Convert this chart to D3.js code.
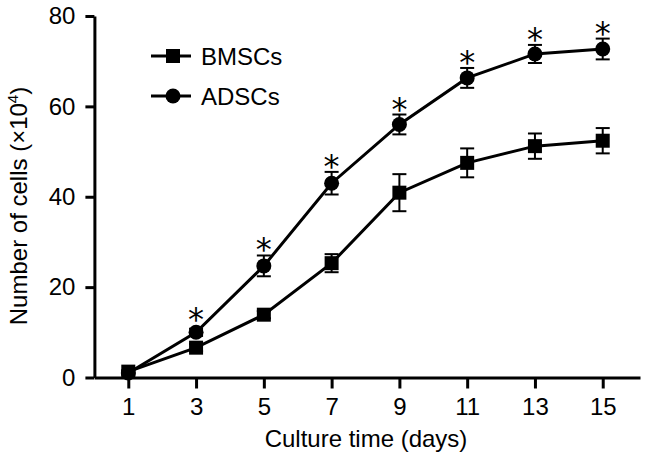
<!DOCTYPE html>
<html>
<head>
<meta charset="utf-8">
<script src="https://cdn.jsdelivr.net/npm/d3@7"></script>
<style>
  html, body { margin: 0; padding: 0; background: #fff; }
  svg { display: block; }
  text { font-family: "Liberation Sans", Arial, Helvetica, sans-serif; fill: #000; }
</style>
</head>
<body>
<svg id="chart" width="646" height="460"></svg>
<script>
// ---- data ----
const days = [1, 3, 5, 7, 9, 11, 13, 15];
const bmscMean = [1.3, 6.6, 13.9, 25.3, 40.9, 47.5, 51.2, 52.4];
const bmscErr  = [0.3, 0.8, 0.8, 2.0, 4.1, 3.2, 2.8, 2.8];
const adscMean = [1.0, 10.0, 24.7, 43.0, 56.0, 66.3, 71.6, 72.7];
const adscErr  = [0.3, 0.8, 2.3, 2.5, 2.2, 2.2, 2.0, 2.3];
const significant = [false, true, true, true, true, true, true, true];
const xTicks = [1, 3, 5, 7, 9, 11, 13, 15];
const yTicks = [0, 20, 40, 60, 80];
const seriesNames = ["BMSCs", "ADSCs"];

const svg = d3.select("#chart");
const x = d3.scaleLinear().domain([0, 16.1]).range([94.4, 640]);
const y = d3.scaleLinear().domain([0, 80]).range([377.5, 16]);

// axes
const yAxis = d3.axisLeft(y).tickValues(yTicks).tickSize(9).tickPadding(10).tickSizeOuter(0);
const xAxis = d3.axisBottom(x).tickValues(xTicks).tickSize(11).tickPadding(9).tickSizeOuter(0);

const gy = svg.append("g").attr("transform", `translate(${x(0)},0)`).call(yAxis);
const gx = svg.append("g").attr("transform", `translate(0,${y(0)})`).call(xAxis);
[gx, gy].forEach(g => {
  g.select(".domain").attr("stroke", "#000").attr("stroke-width", 3);
  g.selectAll(".tick line").attr("stroke", "#000").attr("stroke-width", 3);
  g.selectAll(".tick text").attr("font-size", 24).attr("font-family", "Liberation Sans, Arial, sans-serif").attr("fill", "#000");
});

// axis titles
svg.append("text")
  .attr("x", 366).attr("y", 447)
  .attr("text-anchor", "middle").attr("font-size", 24)
  .text("Culture time (days)");

const yt = svg.append("text")
  .attr("transform", "translate(27,206) rotate(-90)")
  .attr("text-anchor", "middle").attr("font-size", 24);
yt.append("tspan").text("Number of cells (\u00d710");
yt.append("tspan").attr("font-size", 15).attr("dy", -9).text("4");
yt.append("tspan").attr("dy", 9).text(")");

// series
const series = [
  { name: seriesNames[1], mean: adscMean, err: adscErr, shape: "circle" },
  { name: seriesNames[0], mean: bmscMean, err: bmscErr, shape: "square" }
];

const line = d3.line().x(d => x(d.day)).y(d => y(d.v));
const capW = 14;

series.forEach(s => {
  const pts = days.map((d, i) => ({ day: d, v: s.mean[i], e: s.err[i] }));
  const g = svg.append("g");
  g.append("path").datum(pts).attr("d", line)
    .attr("fill", "none").attr("stroke", "#000").attr("stroke-width", 3);
  const eb = g.selectAll(".eb").data(pts).enter().append("g");
  eb.append("line")
    .attr("x1", d => x(d.day)).attr("x2", d => x(d.day))
    .attr("y1", d => y(d.v - d.e)).attr("y2", d => y(d.v + d.e))
    .attr("stroke", "#000").attr("stroke-width", 2);
  [1, -1].forEach(sg => {
    eb.append("line")
      .attr("x1", d => x(d.day) - capW / 2).attr("x2", d => x(d.day) + capW / 2)
      .attr("y1", d => y(d.v + sg * d.e)).attr("y2", d => y(d.v + sg * d.e))
      .attr("stroke", "#000").attr("stroke-width", 2);
  });
  if (s.shape === "circle") {
    g.selectAll(".m").data(pts).enter().append("circle")
      .attr("cx", d => x(d.day)).attr("cy", d => y(d.v)).attr("r", 7.5).attr("fill", "#000");
  } else {
    g.selectAll(".m").data(pts).enter().append("rect")
      .attr("x", d => x(d.day) - 7).attr("y", d => y(d.v) - 7)
      .attr("width", 14).attr("height", 14).attr("fill", "#000");
  }
});

// significance asterisks
const starData = days.map((d, i) => ({ day: d, v: adscMean[i], e: adscErr[i], sig: significant[i] })).filter(d => d.sig);
svg.selectAll(".star").data(starData).enter().append("text")
  .attr("x", d => x(d.day))
  .attr("y", d => Math.min(y(d.v + d.e), y(d.v) - 7.5) - 14 + 19)
  .attr("text-anchor", "middle").attr("font-size", 32)
  .style("font-family", "'DejaVu Sans', sans-serif")
  .attr("fill", "#222")
  .text("*");

// legend
const legend = [
  { name: seriesNames[0], shape: "square", cy: 56 },
  { name: seriesNames[1], shape: "circle", cy: 96 }
];
legend.forEach(l => {
  const g = svg.append("g");
  g.append("line").attr("x1", 151).attr("x2", 191).attr("y1", l.cy).attr("y2", l.cy)
    .attr("stroke", "#000").attr("stroke-width", 3);
  if (l.shape === "square") {
    g.append("rect").attr("x", 173 - 7).attr("y", l.cy - 7).attr("width", 14).attr("height", 14).attr("fill", "#000");
  } else {
    g.append("circle").attr("cx", 173).attr("cy", l.cy).attr("r", 7.5).attr("fill", "#000");
  }
  g.append("text").attr("x", 201).attr("y", l.cy + 8.5).attr("font-size", 24).text(l.name);
});
</script>
</body>
</html>
